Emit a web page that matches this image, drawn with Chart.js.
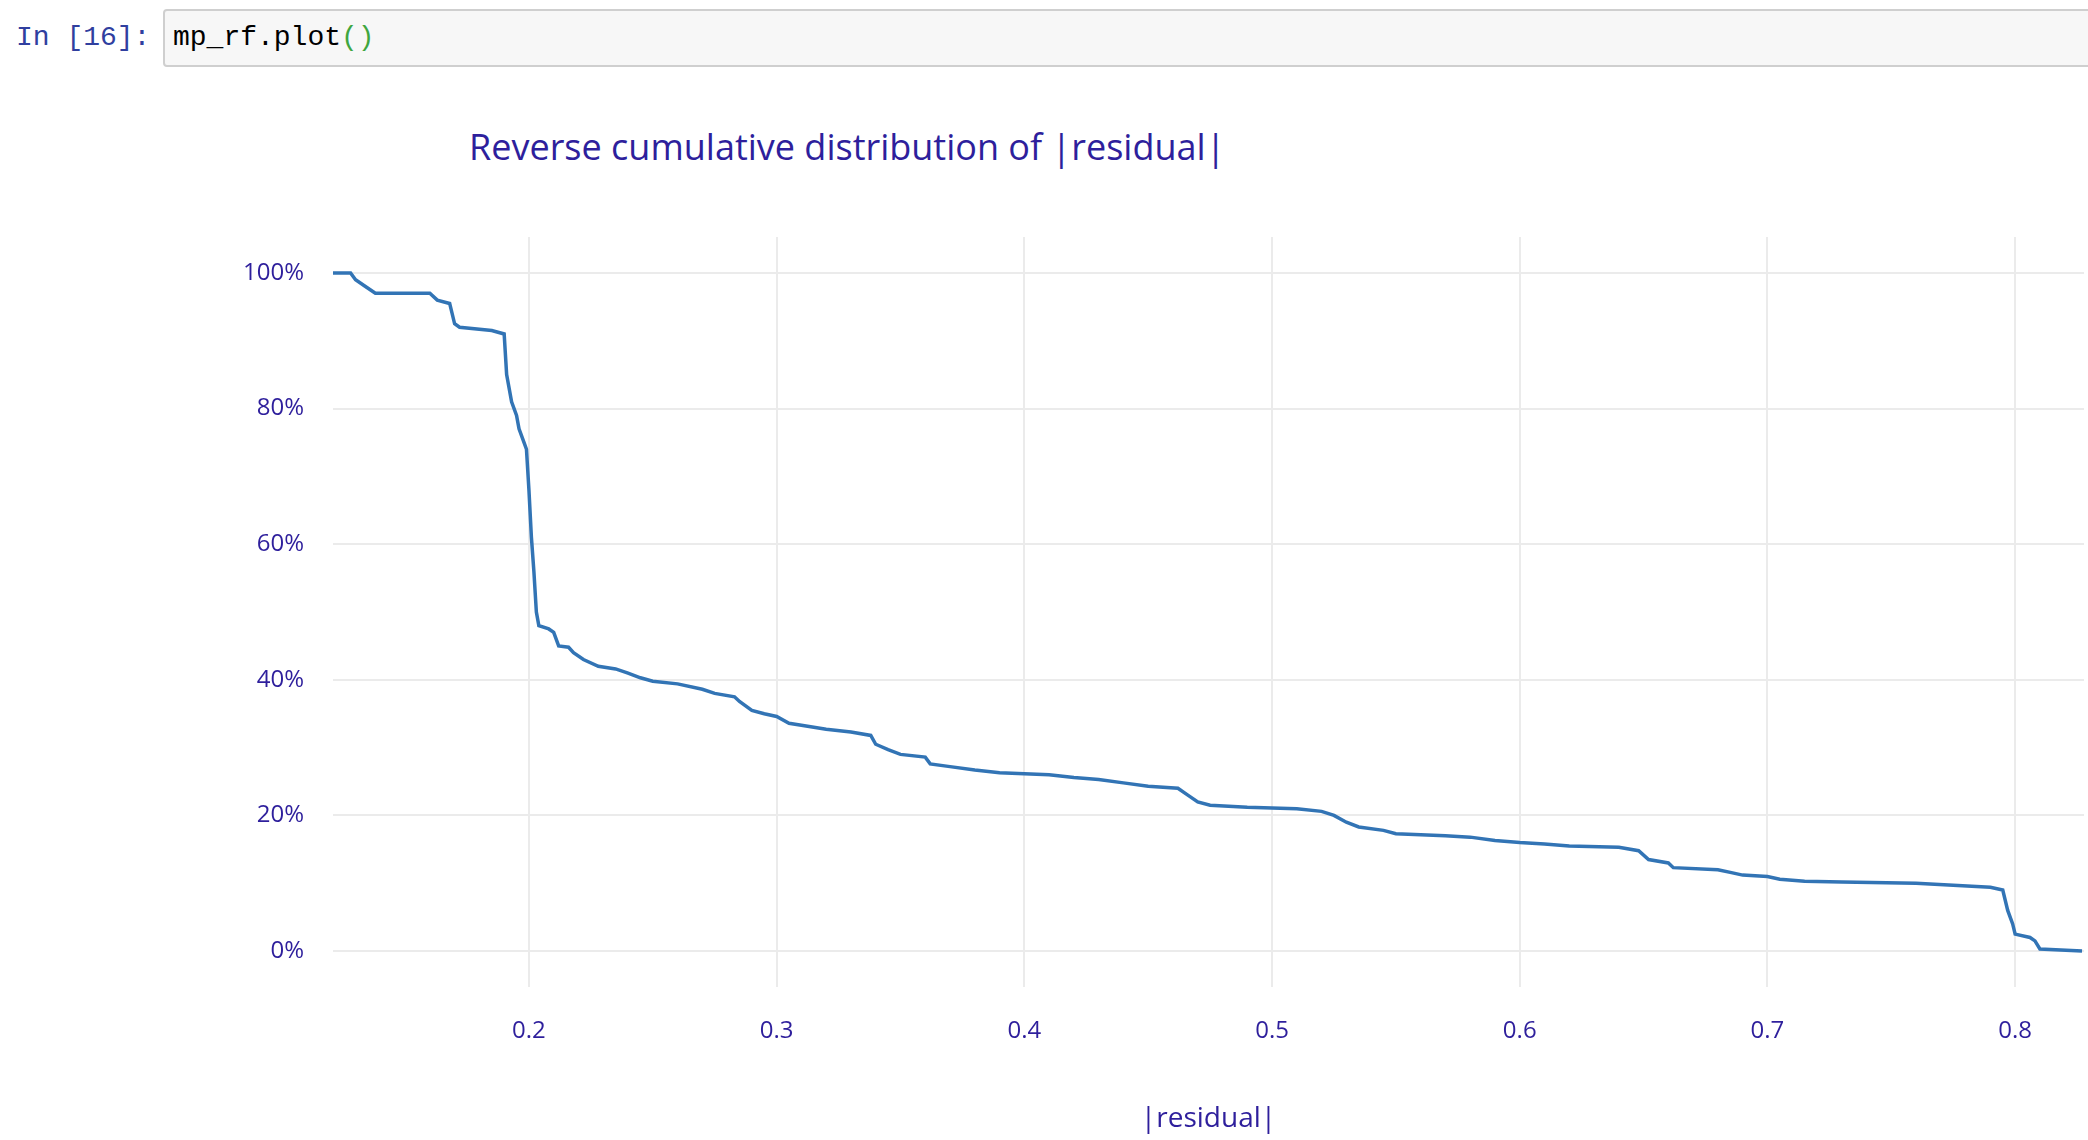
<!DOCTYPE html>
<html>
<head>
<meta charset="utf-8">
<script src="https://cdn.jsdelivr.net/npm/chart.js@4"></script>
<style>
  body { margin: 0; background: #fff; width: 2088px; height: 1140px; overflow: hidden; position: relative; }
  .prompt { position: absolute; left: 16px; top: 22px; font: 28px "Liberation Mono", monospace; color: #303f9f; }
  .cell { position: absolute; left: 163px; top: 9px; width: 1940px; height: 58px; background: #f7f7f7;
          border: 2px solid #cfcfcf; border-radius: 4px; box-sizing: border-box; }
  .code { position: absolute; left: 8px; top: 11px; font: 28px "Liberation Mono", monospace; color: #000; }
  .code span { color: #3fa63f; }
  .title { position: absolute; left: 469px; top: 122px; font: 36px "Open Sans", sans-serif; color: #2e1f9c; }
  #wrap { position: absolute; left: 0; top: 80px; width: 2088px; height: 1060px; }
  canvas { display: block; }
</style>
</head>
<body>
<div class="prompt">In [16]:</div>
<div class="cell"><div class="code">mp_rf.plot<span>()</span></div></div>
<div class="title">Reverse cumulative distribution of |residual|</div>
<div id="wrap"><canvas id="c" width="2088" height="1060" style="width:2088px;height:1060px"></canvas></div>
<script>
const residual = [0.12,0.128,0.13,0.134,0.138,0.16,0.163,0.168,0.17,0.172,0.185,0.19,0.191,0.193,0.195,0.196,0.198,0.199,0.2,0.201,0.202,0.203,0.204,0.208,0.21,0.212,0.216,0.218,0.222,0.228,0.235,0.24,0.245,0.25,0.26,0.27,0.275,0.283,0.285,0.29,0.295,0.3,0.305,0.31,0.32,0.33,0.338,0.34,0.345,0.35,0.36,0.362,0.37,0.38,0.39,0.41,0.42,0.43,0.44,0.45,0.462,0.466,0.47,0.475,0.49,0.51,0.52,0.525,0.53,0.535,0.545,0.55,0.57,0.58,0.59,0.6,0.61,0.62,0.64,0.648,0.652,0.66,0.662,0.68,0.685,0.69,0.7,0.705,0.715,0.73,0.76,0.79,0.795,0.797,0.799,0.8,0.806,0.808,0.81,0.827];
const share = [100,100,99,98,97,97,96,95.5,92.5,92,91.5,91,85,81,79,77,75,74,68,61,56,50,48,47.5,47,45,44.8,44,43,42,41.6,41,40.3,39.8,39.4,38.6,38,37.5,36.8,35.5,35,34.6,33.6,33.3,32.7,32.3,31.8,30.5,29.7,29,28.6,27.6,27.2,26.7,26.3,26,25.6,25.3,24.8,24.3,24,23,22,21.5,21.2,21,20.6,20,19,18.3,17.8,17.3,17,16.8,16.3,16,15.8,15.5,15.3,14.8,13.5,13,12.3,12,11.6,11.2,11,10.6,10.3,10.2,10,9.4,9,6,4,2.5,2,1.5,0.3,0];
const xTicks = [0.2, 0.3, 0.4, 0.5, 0.6, 0.7, 0.8];
const yTicks = [0, 20, 40, 60, 80, 100];

const ink = '#2e1f9c';
const grid = { color: '#ebebeb', lineWidth: 2, drawTicks: false };

new Chart(document.getElementById('c'), {
  type: 'line',
  data: {
    datasets: [{
      data: residual.map((x, i) => ({ x: x, y: share[i] })),
      borderColor: '#3274b5',
      borderWidth: 3.5,
      pointRadius: 0,
      tension: 0,
      fill: false
    }]
  },
  options: {
    responsive: false,
    animation: false,
    devicePixelRatio: 1,
    layout: { padding: { top: 157, right: 4, left: 0, bottom: 0 } },
    plugins: { legend: { display: false }, tooltip: { enabled: false } },
    scales: {
      x: {
        type: 'linear', min: 0.1209, max: 0.8278,
        border: { display: false },
        grid: grid,
        afterBuildTicks: s => { s.ticks = xTicks.map(v => ({ value: v })); },
        afterFit: s => { s.height = 153; },
        ticks: { padding: 30, color: ink, font: { family: 'Open Sans', size: 24 }, maxRotation: 0,
                 callback: v => v.toFixed(1) },
        title: { display: true, text: '|residual|', color: ink, font: { family: 'Open Sans', size: 28 }, padding: { top: 22 } }
      },
      y: {
        type: 'linear', min: -5.3, max: 105.3,
        border: { display: false },
        grid: grid,
        afterBuildTicks: s => { s.ticks = yTicks.map(v => ({ value: v })); },
        afterFit: s => { s.width = 333; },
        ticks: { padding: 29, color: ink, font: { family: 'Open Sans', size: 24 }, callback: v => v + '%' }
      }
    }
  }
});
</script>
</body>
</html>
